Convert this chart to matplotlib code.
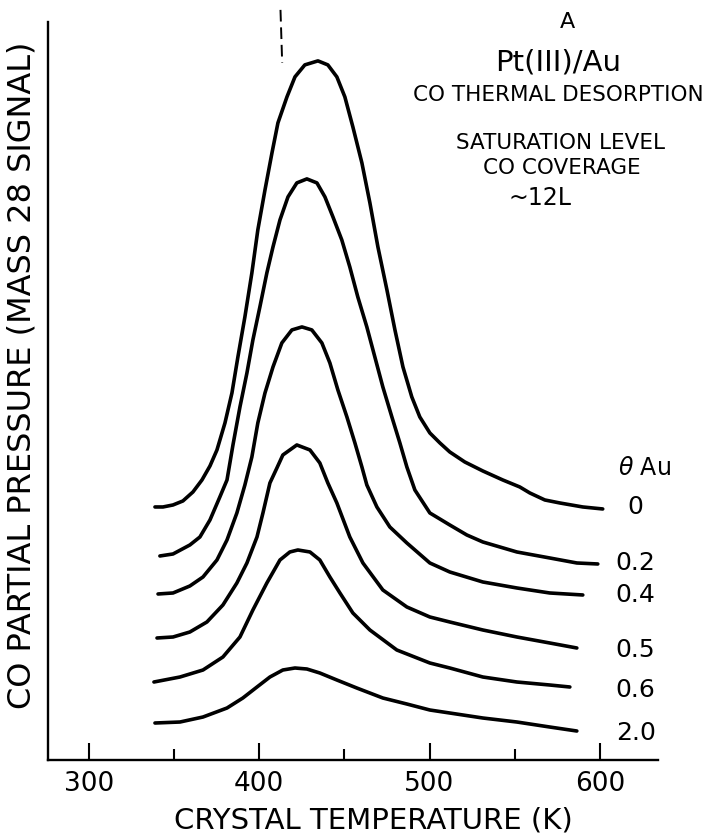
import matplotlib
matplotlib.use("Agg")
import matplotlib.pyplot as plt

# CO thermal desorption from Pt(111)/Au
# temperature (K) and signal (arbitrary units) for each Au coverage
t0 = [338.8, 343.5, 349.4, 355.2, 361.1, 366.4, 371.1, 375.2, 379.9, 384.0, 387.5, 391.6,
      395.7, 399.2, 403.4, 407.5, 411.0, 416.3, 421.0, 426.8, 434.5, 440.3, 445.6, 450.3,
      455.0, 460.3, 465.0, 469.7, 475.0, 479.7, 484.4, 489.6, 494.3, 500.2, 506.1, 511.9,
      520.7, 531.3, 543.0, 553.0, 558.9, 567.7, 576.5, 590.0, 601.7]
s0 = [2.53, 2.53, 2.55, 2.59, 2.68, 2.80, 2.94, 3.10, 3.37, 3.67, 4.03, 4.43,
      4.87, 5.30, 5.70, 6.07, 6.37, 6.63, 6.83, 6.95, 6.99, 6.95, 6.83, 6.63,
      6.33, 5.97, 5.57, 5.13, 4.70, 4.30, 3.93, 3.63, 3.43, 3.27, 3.17, 3.08,
      2.98, 2.89, 2.80, 2.73, 2.67, 2.60, 2.57, 2.53, 2.51]

t02 = [341.7, 349.4, 359.3, 365.2, 371.1, 376.9, 381.1, 384.6, 388.7, 392.8, 396.3, 400.4,
       404.5, 408.1, 412.2, 416.9, 422.1, 428.0, 433.9, 438.6, 443.3, 448.5, 453.2, 457.9,
       463.2, 467.9, 472.6, 477.9, 482.6, 486.7, 491.4, 500.2, 511.9, 521.9, 531.3, 541.3,
       551.3, 570.6, 586.5, 598.8]
s02 = [2.04, 2.06, 2.15, 2.23, 2.40, 2.63, 2.80, 3.15, 3.53, 3.87, 4.20, 4.53,
       4.87, 5.13, 5.40, 5.63, 5.77, 5.81, 5.77, 5.63, 5.43, 5.20, 4.93, 4.63,
       4.33, 4.03, 3.73, 3.43, 3.17, 2.93, 2.70, 2.47, 2.35, 2.25, 2.18, 2.13,
       2.08, 2.02, 1.97, 1.96]

t04 = [340.6, 349.4, 359.3, 367.0, 375.2, 381.1, 386.9, 391.6, 395.7, 399.2, 403.4, 408.1,
       413.3, 419.2, 425.1, 430.9, 436.8, 441.5, 446.2, 451.5, 456.2, 460.3, 463.2, 469.1,
       476.7, 486.7, 500.2, 511.9, 531.3, 551.3, 570.6, 590.0]
s04 = [1.66, 1.67, 1.74, 1.83, 2.00, 2.20, 2.47, 2.75, 3.03, 3.37, 3.67, 3.93,
       4.17, 4.30, 4.33, 4.30, 4.17, 3.97, 3.70, 3.43, 3.17, 2.93, 2.75, 2.53,
       2.33, 2.17, 1.97, 1.88, 1.78, 1.72, 1.67, 1.65]

t05 = [340.0, 349.4, 359.3, 369.3, 378.7, 386.9, 392.8, 398.7, 402.2, 406.3, 410.4, 413.9,
       422.1, 429.8, 435.6, 440.3, 445.6, 453.2, 460.9, 472.6, 486.7, 500.2, 511.9, 531.3,
       551.3, 570.6, 586.5]
s05 = [1.22, 1.23, 1.28, 1.38, 1.55, 1.77, 1.97, 2.23, 2.47, 2.77, 2.92, 3.05,
       3.15, 3.10, 2.97, 2.77, 2.57, 2.23, 1.97, 1.70, 1.53, 1.43, 1.38, 1.30,
       1.23, 1.17, 1.12]

t06 = [338.2, 353.5, 367.0, 378.7, 388.7, 396.3, 404.5, 412.2, 418.0, 422.7, 429.8, 435.6,
       441.5, 447.4, 455.0, 465.0, 480.8, 500.2, 511.9, 531.3, 551.3, 570.6, 582.4]
s06 = [0.78, 0.83, 0.90, 1.03, 1.23, 1.50, 1.77, 2.00, 2.08, 2.10, 2.08, 2.00,
       1.83, 1.67, 1.47, 1.30, 1.10, 0.97, 0.92, 0.83, 0.78, 0.75, 0.73]

t20 = [338.8, 353.5, 367.0, 381.1, 390.4, 398.7, 406.3, 413.9, 421.0, 428.0, 435.6, 445.6,
       457.3, 472.6, 486.7, 500.2, 511.9, 531.3, 551.3, 570.6, 586.5]
s20 = [0.37, 0.38, 0.43, 0.52, 0.62, 0.73, 0.83, 0.90, 0.92, 0.91, 0.87, 0.80,
       0.72, 0.62, 0.56, 0.50, 0.47, 0.42, 0.38, 0.33, 0.29]

curves = [(t0, s0), (t02, s02), (t04, s04), (t05, s05), (t06, s06), (t20, s20)]
labels = ["0", "0.2", "0.4", "0.5", "0.6", "2.0"]
label_y = [2.53, 1.97, 1.65, 1.10, 0.70, 0.27]

plt.rcParams['font.family'] = ['DejaVu Sans']

fig = plt.figure(figsize=(7.09, 8.35), dpi=100)
ax = fig.add_axes([0.0677, 0.0898, 0.860, 0.884])

for t, s in curves:
    ax.plot(t, s, color="black", linewidth=2.6, solid_joinstyle="round", solid_capstyle="round")

for lab, y in zip(labels, label_y):
    ax.text(621, y, lab, fontsize=18, ha="center", va="center")
ax.text(626, 2.92, r"$\theta$ Au", fontsize=17, ha="center", va="center")

# little dashed marker at the top
ax.plot([412.5, 413.5], [7.5, 6.97], color="black", linewidth=1.4,
        linestyle=(0, (6, 3)), clip_on=False)

ax.set_xlim(276, 634)
ax.set_ylim(0, 7.38)
ax.spines["top"].set_visible(False)
ax.spines["right"].set_visible(False)
ax.spines["left"].set_linewidth(1.7)
ax.spines["bottom"].set_linewidth(1.7)
ax.set_yticks([])
ax.set_xticks([300, 400, 500, 600])
ax.set_xticks([350, 450, 550], minor=True)
ax.tick_params(axis="x", which="major", direction="in", length=12, width=1.5,
               labelsize=19, pad=8)
ax.tick_params(axis="x", which="minor", direction="in", length=8, width=1.5)

fig.text(373 / 709, 1 - 820 / 835, "CRYSTAL TEMPERATURE (K)", fontsize=21,
         ha="center", va="center")
fig.text(22 / 709, 1 - 375 / 835, "CO PARTIAL PRESSURE (MASS 28 SIGNAL)", fontsize=23,
         rotation=90, ha="center", va="center")

fig.text(567 / 709, 1 - 22 / 835, "A", fontsize=16, ha="center", va="center")
fig.text(558 / 709, 1 - 63 / 835, "Pt(III)/Au", fontsize=21, ha="center", va="center")
fig.text(558 / 709, 1 - 95 / 835, "CO THERMAL DESORPTION", fontsize=15.5, ha="center", va="center")
fig.text(561 / 709, 1 - 143 / 835, "SATURATION LEVEL", fontsize=15.5, ha="center", va="center")
fig.text(562 / 709, 1 - 168 / 835, "CO COVERAGE", fontsize=15.5, ha="center", va="center")
fig.text(540 / 709, 1 - 198 / 835, "~12L", fontsize=17, ha="center", va="center")

fig.savefig("out.png", dpi=100)
